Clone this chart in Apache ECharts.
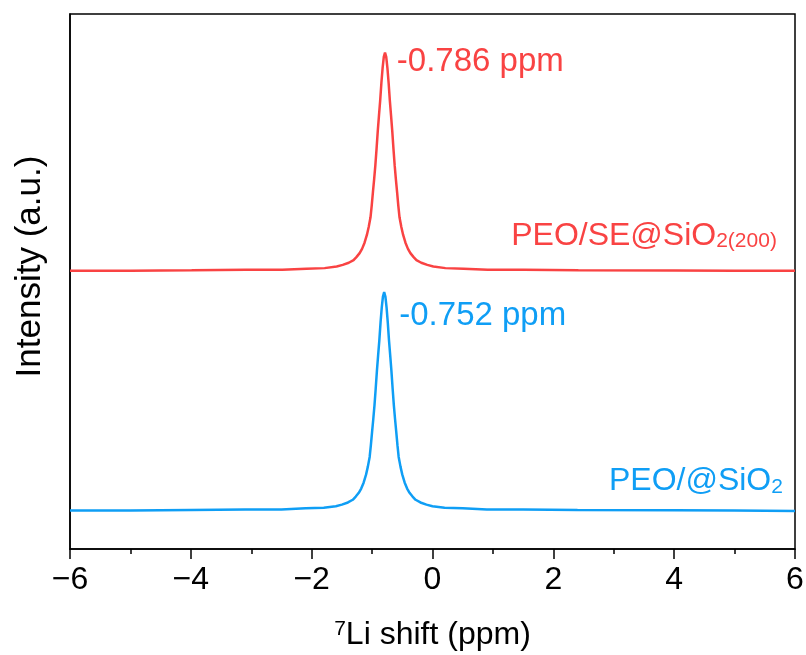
<!DOCTYPE html>
<html>
<head>
<meta charset="utf-8">
<script src="https://cdn.jsdelivr.net/npm/echarts@6/dist/echarts.min.js"></script>
<style>
    html, body { margin: 0; padding: 0; background: #fff; }
    #main { width: 806px; height: 655px; }
</style>
</head>
<body>
<div id="main"></div>
<script>
// x axis ticks (ppm)
const xTicks = [-6, -4, -2, 0, 2, 4, 6]

// PEO/SE@SiO2(200), upper trace
const redX = [-6, -5, -3.986, -3.086, -2.486, -2.086, -1.786, -1.586, -1.486, -1.386, -1.306, -1.256, -1.206, -1.166, -1.126,
    -1.086, -1.056, -1.026, -1.006, -0.986, -0.966, -0.946, -0.926, -0.906, -0.886, -0.866, -0.846, -0.826, -0.806, -0.786,
    -0.766, -0.746, -0.726, -0.706, -0.686, -0.666, -0.646, -0.626, -0.606, -0.586, -0.566, -0.546, -0.516, -0.486, -0.446,
    -0.406, -0.366, -0.316, -0.266, -0.186, -0.086, 0.014, 0.214, 0.514, 0.914, 1.514, 2.414, 4, 5, 6]
const redY = [52.0, 52.0, 52.1, 52.2, 52.2, 52.4, 52.5, 52.8, 53.1, 53.5, 54.0, 54.6, 55.3, 56.1, 57.2,
    58.7, 60.2, 62.0, 64.2, 66.7, 69.1, 71.7, 74.8, 78.1, 81.0, 83.8, 87.1, 89.9, 92.0, 92.8,
    92.0, 89.9, 87.1, 83.8, 81.0, 78.1, 74.8, 71.7, 69.1, 66.7, 64.2, 62.0, 60.2, 58.7, 57.2,
    56.1, 55.3, 54.6, 54.0, 53.5, 53.1, 52.8, 52.5, 52.4, 52.2, 52.2, 52.1, 52.05, 52.0, 52.0]

// PEO/@SiO2, lower trace
const blueX = [-6, -5, -4.0, -3.1, -2.5, -2.1, -1.8, -1.6, -1.5, -1.4, -1.32, -1.27, -1.22, -1.18, -1.14,
    -1.1, -1.07, -1.04, -1.02, -1.0, -0.98, -0.96, -0.94, -0.92, -0.9, -0.88, -0.86, -0.84, -0.82, -0.8,
    -0.78, -0.76, -0.74, -0.72, -0.7, -0.68, -0.66, -0.64, -0.62, -0.6, -0.58, -0.56, -0.53, -0.5, -0.46,
    -0.42, -0.38, -0.33, -0.28, -0.2, -0.1, 0, 0.2, 0.5, 0.9, 1.5, 2.4, 4, 5, 6]
const blueY = [7.2, 7.2, 7.3, 7.4, 7.4, 7.6, 7.7, 8.0, 8.3, 8.7, 9.2, 9.8, 10.5, 11.3, 12.4,
    13.9, 15.4, 17.2, 19.4, 21.9, 24.3, 26.9, 30.0, 33.3, 36.2, 39.0, 42.3, 45.1, 47.2, 48.0,
    47.2, 45.1, 42.3, 39.0, 36.2, 33.3, 30.0, 26.9, 24.3, 21.9, 19.4, 17.2, 15.4, 13.9, 12.4,
    11.3, 10.5, 9.8, 9.2, 8.7, 8.3, 8.0, 7.7, 7.6, 7.4, 7.4, 7.3, 7.25, 7.2, 7.1]

const peakLabels = ['-0.786 ppm', '-0.752 ppm']

const RED = '#f94343'
const BLUE = '#0f9ef5'
const FONT = 'Liberation Sans, Arial, sans-serif'

const chart = echarts.init(document.getElementById('main'))

chart.setOption({
    animation: false,
    backgroundColor: '#fff',
    grid: {
        left: 70,
        right: 11,
        top: 14,
        bottom: 106,
        outerBoundsMode: 'none',
        containLabel: false,
        show: true,
        borderColor: '#000',
        borderWidth: 1.5
    },
    xAxis: {
        type: 'value',
        min: xTicks[0],
        max: xTicks[xTicks.length - 1],
        interval: 2,
        name: '{sup|7}{n|Li shift (ppm)}',
        nameLocation: 'middle',
        nameGap: 70,
        nameTextStyle: {
            rich: {
                sup: { fontFamily: FONT, fontSize: 21, color: '#000', lineHeight: 21, padding: [0, 0, 16, 0], verticalAlign: 'top' },
                n: { fontFamily: FONT, fontSize: 32, color: '#000', lineHeight: 32, verticalAlign: 'bottom' }
            }
        },
        axisLine: { onZero: false, lineStyle: { color: '#000', width: 1.5 } },
        axisTick: { inside: false, length: 10, lineStyle: { color: '#000', width: 1.5 } },
        minorTick: { show: true, splitNumber: 2, length: 5, lineStyle: { color: '#000', width: 1.5 } },
        splitLine: { show: false },
        axisLabel: {
            margin: 15,
            fontFamily: FONT,
            fontSize: 32,
            color: '#000',
            formatter: v => (v < 0 ? '\u2212' + Math.abs(v) : String(v))
        }
    },
    yAxis: {
        type: 'value',
        min: 0,
        max: 100,
        name: 'Intensity (a.u.)',
        nameLocation: 'middle',
        nameGap: 22,
        nameTextStyle: { fontFamily: FONT, fontSize: 35, color: '#000', padding: [0, 0, 0, 30] },
        axisLine: { show: true, onZero: false, lineStyle: { color: '#000', width: 1.5 } },
        axisTick: { show: false },
        axisLabel: { show: false },
        splitLine: { show: false }
    },
    series: [
        {
            name: 'PEO/SE@SiO2(200)',
            type: 'line',
            data: redX.map((x, i) => [x, redY[i]]),
            showSymbol: false,
            lineStyle: { color: RED, width: 2.5 },
            itemStyle: { color: RED },
            markPoint: {
                symbol: 'circle',
                symbolSize: 0,
                silent: true,
                data: [
                    {
                        coord: [-0.59, 91.0],
                        label: { show: true, position: 'right', distance: 0, formatter: peakLabels[0], fontFamily: FONT, fontSize: 33, color: RED }
                    },
                    {
                        coord: [5.7, 58.5],
                        label: {
                            show: true,
                            position: 'left',
                            distance: 0,
                            formatter: '{a|PEO/SE@SiO}{b|2(200)}',
                            rich: {
                                a: { fontFamily: FONT, fontSize: 32, color: RED, lineHeight: 32, verticalAlign: 'top' },
                                b: { fontFamily: FONT, fontSize: 21, color: RED, lineHeight: 21, padding: [20, 0, 0, 0], verticalAlign: 'bottom' }
                            }
                        }
                    }
                ]
            }
        },
        {
            name: 'PEO/@SiO2',
            type: 'line',
            data: blueX.map((x, i) => [x, blueY[i]]),
            showSymbol: false,
            lineStyle: { color: BLUE, width: 2.5 },
            itemStyle: { color: BLUE },
            markPoint: {
                symbol: 'circle',
                symbolSize: 0,
                silent: true,
                data: [
                    {
                        coord: [-0.55, 43.5],
                        label: { show: true, position: 'right', distance: 0, formatter: peakLabels[1], fontFamily: FONT, fontSize: 33, color: BLUE }
                    },
                    {
                        coord: [5.8, 12.6],
                        label: {
                            show: true,
                            position: 'left',
                            distance: 0,
                            formatter: '{a|PEO/@SiO}{b|2}',
                            rich: {
                                a: { fontFamily: FONT, fontSize: 32, color: BLUE, lineHeight: 32, verticalAlign: 'top' },
                                b: { fontFamily: FONT, fontSize: 21, color: BLUE, lineHeight: 21, padding: [18, 0, 0, 0], verticalAlign: 'bottom' }
                            }
                        }
                    }
                ]
            }
        }
    ]
})
</script>
</body>
</html>
